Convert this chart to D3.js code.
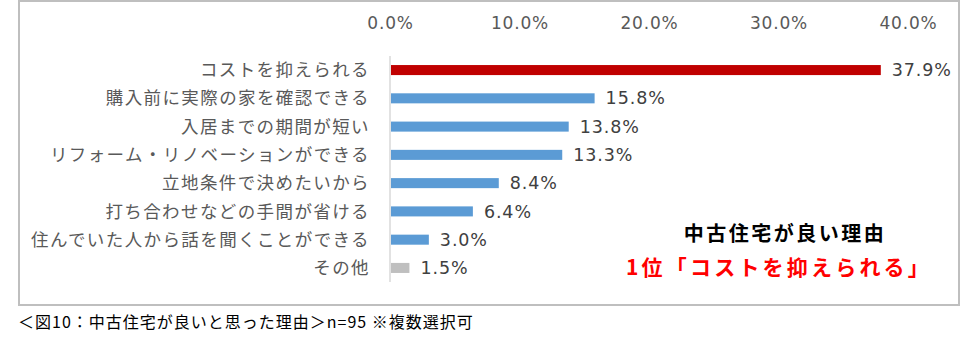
<!DOCTYPE html>
<html><head><meta charset="utf-8">
<script src="https://cdn.jsdelivr.net/npm/d3@7/dist/d3.min.js"></script>
<style>
html,body{margin:0;padding:0;background:#fff;}
svg{display:block;}
</style></head>
<body>
<svg id="chart" width="963" height="356"></svg>
<script>
const categories = ["コストを抑えられる","購入前に実際の家を確認できる","入居までの期間が短い","リフォーム・リノベーションができる","立地条件で決めたいから","打ち合わせなどの手間が省ける","住んでいた人から話を聞くことができる","その他"];
const values = [37.9,15.8,13.8,13.3,8.4,6.4,3.0,1.5];
const barColors = ["#c00000","#5b9bd5","#5b9bd5","#5b9bd5","#5b9bd5","#5b9bd5","#5b9bd5","#bfbfbf"];
const tickValues = [0,10,20,30,40];
const annotationTitle = "中古住宅が良い理由";
const annotationRank = "1位「コストを抑えられる」";
const caption = "＜図10：中古住宅が良いと思った理由＞n=95 ※複数選択可";

const svg = d3.select("#chart");
const jp = "'Noto Sans CJK JP', 'Noto Sans', sans-serif";
const num = "'DejaVu Sans', 'Noto Sans CJK JP', sans-serif";

// frame
svg.append("rect").attr("x",19).attr("y",1).attr("width",940).attr("height",304)
  .attr("fill","none").attr("stroke","#bfbfbf").attr("stroke-width",2);

const x = d3.scaleLinear().domain([0,40]).range([390,908]);
const y = d3.scaleBand().domain(categories).range([56,282]).paddingInner(0.645).paddingOuter(0.32);

// top axis labels
const xAxis = d3.axisTop(x).tickValues(tickValues).tickSize(0).tickFormat(d => d3.format(".1f")(d)+"%");
const gx = svg.append("g").attr("transform","translate(0,23)").call(xAxis);
gx.select(".domain").remove();
gx.selectAll("text").attr("dy","0.35em").attr("y",0)
  .attr("font-family",num).attr("font-size","17px").attr("fill","#595959").attr("letter-spacing","0.8px");

// category axis
const yAxis = d3.axisLeft(y).tickSize(0).tickPadding(20);
const gy = svg.append("g").attr("transform","translate(390,0)").call(yAxis);
gy.select(".domain").remove();
gy.selectAll("text").attr("font-family",jp).attr("font-size","17.5px").attr("fill","#595959")
  .attr("letter-spacing","1.4px").attr("dy","0.35em");

// vertical axis line
svg.append("line").attr("x1",x(0)).attr("x2",x(0)).attr("y1",56).attr("y2",282)
  .attr("stroke","#d9d9d9").attr("stroke-width",1.5);

// bars
svg.append("g").selectAll("rect").data(values).join("rect")
  .attr("x",x(0)+1)
  .attr("y",(d,i)=>y(categories[i]))
  .attr("width",d=>x(d)-x(0)-1)
  .attr("height",y.bandwidth())
  .attr("fill",(d,i)=>barColors[i]);

// value labels
svg.append("g").selectAll("text").data(values).join("text")
  .attr("x",d=>x(d)+11)
  .attr("y",(d,i)=>y(categories[i])+y.bandwidth()/2)
  .attr("dy","0.35em")
  .attr("font-family",num).attr("font-size","17.5px").attr("fill","#404040").attr("letter-spacing","0.9px")
  .text(d=>d3.format(".1f")(d)+"%");

// annotation
svg.append("text").attr("x",785).attr("y",234).attr("dy","0.35em").attr("text-anchor","middle")
  .attr("font-family",jp).attr("font-weight","bold").attr("font-size","20px").attr("letter-spacing","2.5px")
  .attr("fill","#000").text(annotationTitle);
svg.append("text").attr("x",779).attr("y",268).attr("dy","0.35em").attr("text-anchor","middle")
  .attr("font-family",jp).attr("font-weight","bold").attr("font-size","21px").attr("letter-spacing","3.2px")
  .attr("fill","#ff0000").text(annotationRank);

// caption
svg.append("text").attr("x",18).attr("y",322).attr("dy","0.35em")
  .attr("font-family",jp).attr("font-size","16px").attr("fill","#000").attr("letter-spacing","1px")
  .text(caption);
</script>
</body></html>
